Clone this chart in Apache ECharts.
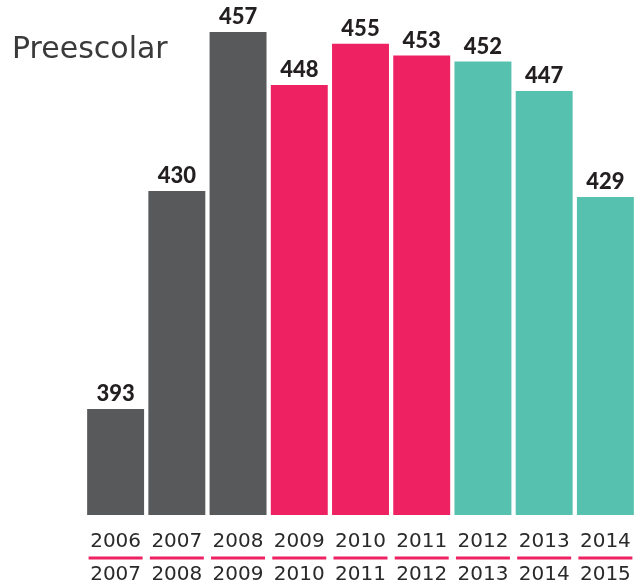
<!DOCTYPE html>
<html>
<head>
<meta charset="utf-8">
<script src="https://cdn.jsdelivr.net/npm/echarts@6/dist/echarts.min.js"></script>
<style>
    html, body { margin: 0; padding: 0; background: #fff; }
    #chart { width: 636px; height: 587px; }
</style>
</head>
<body>
<div id="chart"></div>
<script>
    // datos
    var startYears = ['2006', '2007', '2008', '2009', '2010', '2011', '2012', '2013', '2014'];
    var endYears = ['2007', '2008', '2009', '2010', '2011', '2012', '2013', '2014', '2015'];
    var values = [393, 430, 457, 448, 455, 453, 452, 447, 429];

    var palette = ['#58595b', '#ee2163', '#56c1ae'];

    var chart = echarts.init(document.getElementById('chart'));

    chart.setOption({
        animation: false,
        title: {
            text: 'Preescolar',
            left: 7,
            top: 30,
            textStyle: {
                fontFamily: 'DejaVu Sans',
                fontSize: 30,
                fontWeight: 'normal',
                color: '#3a3a3a'
            }
        },
        grid: {
            left: 85,
            right: 0,
            top: 32,
            bottom: 72
        },
        xAxis: {
            type: 'category',
            data: startYears,
            axisLine: {show: false},
            axisTick: {show: false},
            axisLabel: {
                interval: 0,
                margin: 16,
                formatter: function (val, i) {
                    return '{a|' + val + '}\n{line| }\n{b|' + endYears[i] + '}';
                },
                rich: {
                    a: {
                        fontFamily: 'DejaVu Sans',
                        fontSize: 20,
                        color: '#2a2a2a',
                        lineHeight: 22
                    },
                    line: {
                        width: 54,
                        height: 3,
                        lineHeight: 10,
                        fontSize: 4,
                        backgroundColor: '#ee2163'
                    },
                    b: {
                        fontFamily: 'DejaVu Sans',
                        fontSize: 20,
                        color: '#2a2a2a',
                        lineHeight: 24
                    }
                }
            }
        },
        yAxis: {
            type: 'value',
            min: 375,
            max: 457,
            show: false,
            splitLine: {show: false}
        },
        series: [
            {
                type: 'bar',
                barCategoryGap: '7%',
                data: values.map(function (v, i) {
                    return {
                        value: v,
                        itemStyle: {color: palette[Math.floor(i / 3)]}
                    };
                }),
                label: {
                    show: true,
                    position: 'top',
                    distance: 4,
                    fontFamily: 'Lato',
                    fontWeight: 900,
                    fontSize: 22,
                    color: '#231f20'
                }
            }
        ]
    });
</script>
</body>
</html>
